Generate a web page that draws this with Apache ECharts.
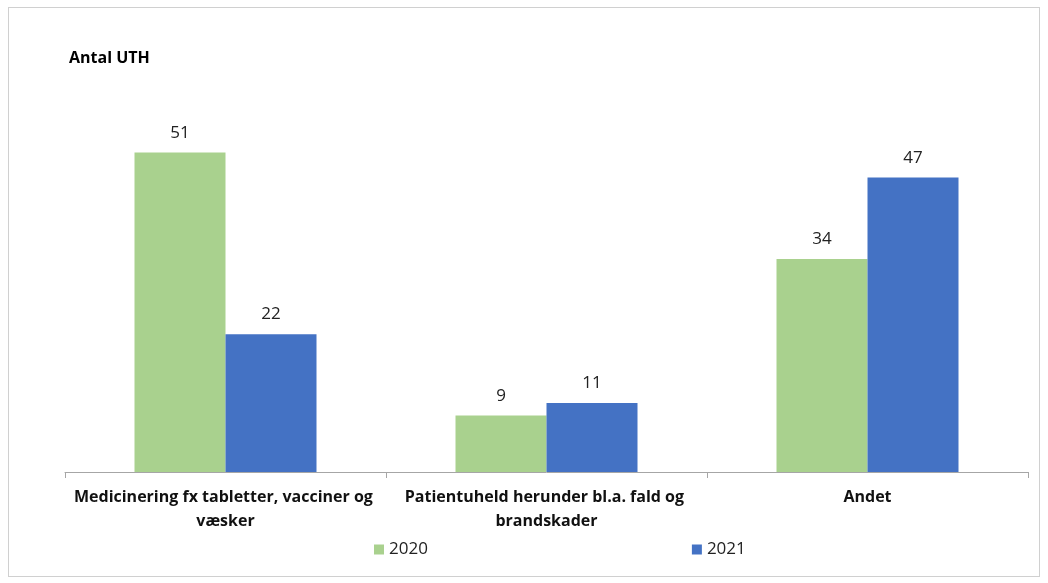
<!DOCTYPE html>
<html><head><meta charset="utf-8">
<script src="https://cdn.jsdelivr.net/npm/echarts@6/dist/echarts.min.js"></script>
<style>html,body{margin:0;padding:0;background:#fff}#c{width:1048px;height:583px}
#frame{position:absolute;left:8px;top:7px;width:1032px;height:570px;border:1px solid #d0d0d0;box-sizing:border-box;pointer-events:none}</style>
</head><body>
<div id="c"></div><div id="frame"></div>
<script>
const categories = ['Medicinering fx tabletter, vacciner og væsker', 'Patientuheld herunder bl.a. fald og brandskader', 'Andet'];
const seriesNames = ['2020', '2021'];
const values2020 = [51, 9, 34];
const values2021 = [22, 11, 47];

const chart = echarts.init(document.getElementById('c'));
const font = 'Open Sans';
chart.setOption({
  animation: false,
  textStyle: {fontFamily: font},
  title: {text: 'Antal UTH', left: 64, top: 45, textStyle: {fontSize: 16, fontWeight: 'bold', color: '#000', fontFamily: font}},
  legend: {
    data: seriesNames, left: 369, top: 536, itemWidth: 10, itemHeight: 10, itemGap: 264,
    icon: 'rect', textStyle: {fontSize: 17, color: '#222', fontFamily: font}
  },
  grid: {left: 65, right: 20, top: 96, bottom: 111},
  xAxis: {
    type: 'category', data: categories,
    axisLine: {lineStyle: {color: '#a6a6a6'}},
    axisTick: {show: true, length: 6, lineStyle: {color: '#a6a6a6'}},
    axisLabel: {interval: 0, width: 315, overflow: 'break', fontSize: 16, fontWeight: 'bold', color: '#111', lineHeight: 24, margin: 13, fontFamily: font}
  },
  yAxis: {type: 'value', min: 0, max: 60, show: false, splitLine: {show: false}},
  series: [
    {name: '2020', type: 'bar', data: values2020, barWidth: 91, barGap: '0%', itemStyle: {color: '#a9d18e'},
     label: {show: true, position: 'top', distance: 11, fontSize: 17, color: '#222', fontFamily: font}},
    {name: '2021', type: 'bar', data: values2021, barWidth: 91, barGap: '0%', itemStyle: {color: '#4472c4'},
     label: {show: true, position: 'top', distance: 11, fontSize: 17, color: '#222', fontFamily: font}}
  ]
});
</script>
</body></html>
